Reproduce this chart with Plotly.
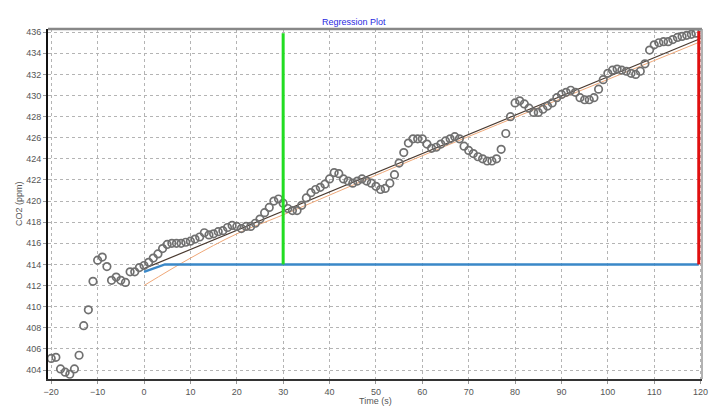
import plotly.graph_objects as go

# ---- data ----
time_s = list(range(-20, 120))
co2_ppm = [
    405.1, 405.2, 404.1, 403.8, 403.6, 404.1, 405.4, 408.2, 409.7, 412.4,   # -20..-11
    414.4, 414.7, 413.8, 412.5, 412.8, 412.5, 412.3, 413.3, 413.3, 413.7,   # -10..-1
    413.9, 414.2, 414.6, 415.0, 415.5, 415.9, 416.0, 416.0, 416.0, 416.1,   # 0..9
    416.2, 416.4, 416.6, 417.0, 416.8, 416.9, 417.1, 417.2, 417.5, 417.7,   # 10..19
    417.6, 417.4, 417.6, 417.6, 417.9, 418.3, 418.9, 419.4, 420.0, 420.2,   # 20..29
    419.8, 419.3, 419.1, 419.1, 419.6, 420.3, 420.8, 421.1, 421.3, 421.6,   # 30..39
    422.1, 422.7, 422.6, 422.1, 421.9, 421.7, 421.9, 422.1, 421.9, 421.7,   # 40..49
    421.4, 421.1, 421.2, 421.7, 422.5, 423.6, 424.6, 425.5, 425.9, 425.9,   # 50..59
    425.9, 425.4, 425.0, 425.1, 425.4, 425.7, 425.9, 426.1, 425.9, 425.2,   # 60..69
    424.8, 424.5, 424.2, 424.0, 423.8, 423.8, 424.0, 424.9, 426.4, 428.0,   # 70..79
    429.3, 429.5, 429.2, 428.8, 428.4, 428.4, 428.7, 429.0, 429.3, 429.8,   # 80..89
    430.1, 430.3, 430.5, 430.3, 429.8, 429.6, 429.6, 429.8, 430.6, 431.5,   # 90..99
    432.1, 432.4, 432.5, 432.4, 432.3, 432.1, 432.0, 432.3, 433.0, 434.3,   # 100..109
    434.8, 435.0, 435.1, 435.1, 435.3, 435.5, 435.6, 435.7, 435.8, 435.9,   # 110..119
]

fit_t = [0, 120]
fit_v = [413.6, 435.4]

fit2_t = [0, 10, 20, 30, 60, 120]
fit2_v = [412.0, 414.6, 416.9, 418.7, 424.3, 435.1]

baseline_t = [0, 4.5, 119.6]
baseline_v = [413.3, 414.0, 414.0]

start_t = [30, 30]
start_v = [414.0, 435.9]

end_t = [119.6, 119.6]
end_v = [414.0, 436.1]

x_ticks = list(range(-20, 121, 10))
y_ticks = list(range(404, 437, 2))

fig = go.Figure()

fig.add_trace(go.Scatter(x=fit2_t, y=fit2_v, mode="lines", line=dict(color="#f0a878", width=1, shape="spline"),
                         hoverinfo="skip", showlegend=False))
fig.add_trace(go.Scatter(x=fit_t, y=fit_v, mode="lines", line=dict(color="#4a3a30", width=1.2),
                         hoverinfo="skip", showlegend=False))
fig.add_trace(go.Scatter(x=baseline_t, y=baseline_v, mode="lines", line=dict(color="#3a88c8", width=2.5),
                         showlegend=False))
fig.add_trace(go.Scatter(x=time_s, y=co2_ppm, mode="markers",
                         marker=dict(symbol="circle-open", size=7.5, color="#707070", line=dict(width=1.7)),
                         showlegend=False))
fig.add_trace(go.Scatter(x=start_t, y=start_v, mode="lines", line=dict(color="#22dd22", width=3),
                         showlegend=False))
fig.add_trace(go.Scatter(x=end_t, y=end_v, mode="lines", line=dict(color="#e01010", width=3),
                         showlegend=False))

axis_font = dict(family="Liberation Sans, Arial, sans-serif", size=9, color="#555555")

fig.update_xaxes(range=[-20.7, 120.3], tickvals=x_ticks, showgrid=True, gridcolor="#b4b4b4",
                 griddash="dot", gridwidth=1, zeroline=False, showline=True, linecolor="#333333",
                 linewidth=2, mirror=False, ticks="outside", ticklen=3, tickcolor="#999999",
                 tickfont=axis_font, automargin=False)
fig.update_yaxes(range=[403.15, 436.3], tickvals=y_ticks, showgrid=True, gridcolor="#b4b4b4",
                 griddash="dot", gridwidth=1, zeroline=False, showline=True, linecolor="#111111",
                 linewidth=2, mirror=False, ticks="outside", ticklen=3, tickcolor="#999999",
                 tickfont=axis_font, automargin=False)

# top / right frame
fig.add_shape(type="line", xref="paper", yref="paper", x0=0, x1=1, y0=1, y1=1,
              line=dict(color="#888888", width=2.5))
fig.add_shape(type="line", xref="paper", yref="paper", x0=1, x1=1, y0=0, y1=1,
              line=dict(color="#999999", width=1.5))

fig.add_annotation(text="Regression Plot", xref="paper", yref="paper", x=0.468, y=1.0,
                   yshift=14, showarrow=False, font=dict(family="Liberation Sans, Arial, sans-serif",
                                                         size=9, color="#2a2ae0"))
fig.add_annotation(text="Time (s)", xref="paper", yref="paper", x=0.5, y=0, yshift=-29,
                   showarrow=False, font=axis_font)
fig.add_annotation(text="CO2 (ppm)", xref="paper", yref="paper", x=0, xshift=-36, y=0.5,
                   textangle=-90, showarrow=False, font=axis_font)

fig.update_layout(width=710, height=419, margin=dict(l=48, r=8, t=29, b=40),
                  paper_bgcolor="#ffffff", plot_bgcolor="#ffffff", showlegend=False)

fig.write_html("out.html", config={"displayModeBar": False},
               post_script="document.body.style.margin='0px';document.body.style.overflow='hidden';")
